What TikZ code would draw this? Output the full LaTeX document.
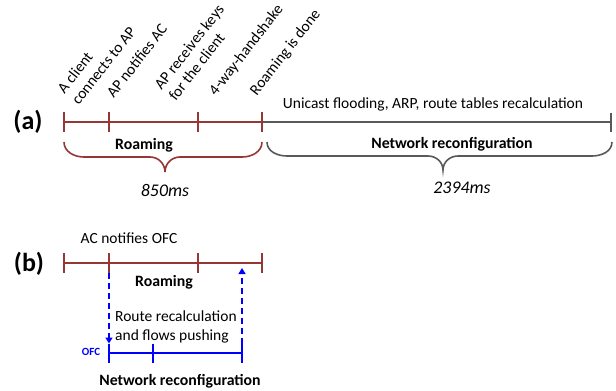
\documentclass[tikz,border=0pt]{standalone}
\usepackage{fontspec}
\setmainfont{Carlito}
\usetikzlibrary{arrows.meta}
\definecolor{roam}{HTML}{953735}
\definecolor{netgray}{HTML}{595959}
\definecolor{ofcblue}{HTML}{0000FF}
\begin{document}
\begin{tikzpicture}[x=1pt,y=1pt,
  seg/.style={line width=2pt},
  lbl/.style={font=\fontsize{15.5}{18}\selectfont, inner sep=0pt},
  evt/.style={lbl, rotate=52, anchor=south west, align=left},
  bold/.style={font=\fontsize{15.8}{18}\selectfont\bfseries, inner sep=0pt},
  dur/.style={font=\fontsize{17.8}{20}\selectfont\itshape, inner sep=0pt},
  part/.style={font=\fontsize{26}{30}\selectfont\bfseries, inner sep=0pt},
  brc/.style={line width=1.6pt},
  flow/.style={ofcblue, line width=2pt, dash pattern=on 6pt off 4pt,
               -{Triangle[length=6pt,width=7pt]}}
]
\useasboundingbox (0,0) rectangle (616,-391);

% ---------------- (a) sequential roaming then reconfiguration
\node[part] (pa) at (28,-122) {(a)};
\coordinate (a0) at (64,-122);
\coordinate (a1) at (109,-122);
\coordinate (a2) at (198,-122);
\coordinate (a3) at (262,-122);
\coordinate (a4) at (611,-122);

\draw[seg, netgray] (a3) -- (a4);
\draw[seg, netgray] ([yshift=9.5pt]a4) -- ([yshift=-9.5pt]a4);
\draw[seg, roam] (a0) -- (a3);
\foreach \t in {a0,a1,a2,a3}
  \draw[seg, roam] ([yshift=10pt]\t) -- ([yshift=-10pt]\t);

% event labels
\node[evt] (e1) at (79,-106) {A client\\connects to AP};
\node[evt] (e2) at (114,-99) {AP notifies AC};
\node[evt] (e3) at (176,-102) {AP receives keys\\for the client};
\node[evt] (e4) at (218,-98) {4-way-handshake};
\node[evt] (e5) at (259,-98) {Roaming is done};

\node[lbl] (uni) at (433,-104) {Unicast flooding, ARP, route tables recalculation};

% braces
\draw[brc, roam] (64,-142) to[out=-90,in=180] (84,-157) -- (150,-157)
  to[out=0,in=90] (165,-172) to[out=90,in=180] (180,-157) -- (242,-157)
  to[out=0,in=-90] (262,-142);
\draw[brc, netgray] (267,-142) to[out=-90,in=180] (287,-156) -- (428,-156)
  to[out=0,in=90] (443,-170) to[out=90,in=180] (458,-156) -- (592,-156)
  to[out=0,in=-90] (612,-142);

\node[bold] (ra) at (144,-145) {Roaming};
\node[dur] (ta) at (165,-190) {850ms};
\node[bold] (na) at (452,-144) {Network reconfiguration};
\node[dur] (tb) at (462,-188) {2394ms};

% ---------------- (b) reconfiguration in parallel with roaming
\node[part] (pb) at (29,-264) {(b)};
\coordinate (b0) at (64,-263);
\coordinate (b1) at (109,-263);
\coordinate (b2) at (198,-263);
\coordinate (b3) at (262,-263);
\draw[seg, roam] (b0) -- (b3);
\foreach \t in {b0,b1,b2,b3}
  \draw[seg, roam] ([yshift=10pt]\t) -- ([yshift=-10pt]\t);

\node[lbl] (acn) at (129,-238) {AC notifies OFC};
\node[bold] (rb) at (164,-282) {Roaming};

\coordinate (o0) at (109,-353);
\coordinate (o1) at (153,-353);
\coordinate (o2) at (242,-353);
\draw[seg, ofcblue] (o0) -- (o2);
\foreach \t in {o0,o1,o2}
  \draw[seg, ofcblue] ([yshift=9.5pt]\t) -- ([yshift=-9.5pt]\t);

\coordinate (up) at (242,-268);
\draw[flow] ([yshift=-10pt]b1) -- ([yshift=9.5pt]o0);
\draw[flow] ([yshift=9.5pt]o2) -- (up);

\node[lbl, align=left, anchor=west, font=\fontsize{15.5}{19}\selectfont] (rr) at (115,-327)
  {Route recalculation\\and flows pushing};
\node[inner sep=0pt, font=\fontsize{11}{13}\selectfont\bfseries, text=ofcblue] (ofc) at (91,-352) {OFC};
\node[bold] (nb) at (180,-381) {Network reconfiguration};
\end{tikzpicture}
\end{document}
